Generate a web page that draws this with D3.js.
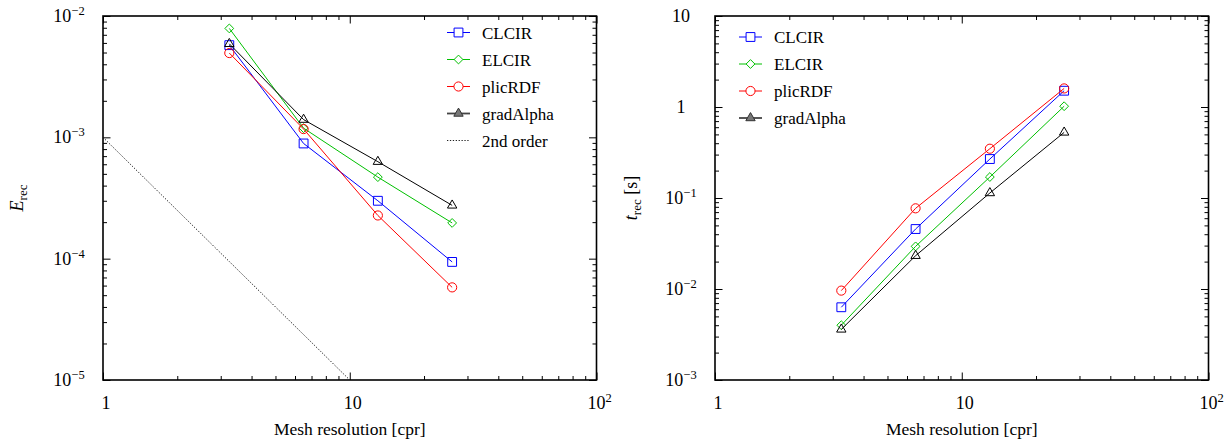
<!DOCTYPE html>
<html>
<head>
<meta charset="utf-8">
<script src="https://cdn.jsdelivr.net/npm/d3@7"></script>
<style>
  body { margin: 0; background: #fff; }
  svg { display: block; font-family: "Liberation Serif", "DejaVu Serif", serif; }
</style>
</head>
<body>
<svg id="chart" width="1231" height="439"></svg>
<script>
// mesh resolution (cells per radius)
var meshRes = [3.25, 6.5, 13, 26];

// reconstruction error
var errCLCIR = [5.75e-3, 8.9e-4, 3.0e-4, 9.4e-5];
var errELCIR = [7.9e-3, 1.19e-3, 4.7e-4, 1.97e-4];
var errPlicRDF = [4.95e-3, 1.17e-3, 2.27e-4, 5.8e-5];
var errGradAlpha = [5.9e-3, 1.40e-3, 6.3e-4, 2.75e-4];
var orderX = [1, 10];
var orderY = [1e-3, 1e-5];

// reconstruction time [s]
var timeCLCIR = [0.0063, 0.0456, 0.268, 1.51];
var timeELCIR = [0.0040, 0.0294, 0.170, 1.02];
var timePlicRDF = [0.0096, 0.077, 0.348, 1.6];
var timeGradAlpha = [0.0036, 0.0232, 0.1135, 0.526];

// tick labels: [base, exponent]
var xTickVals = [1, 10, 100];
var xTickText = [["1", ""], ["10", ""], ["10", "2"]];
var errTickVals = [1e-2, 1e-3, 1e-4, 1e-5];
var errTickText = [["10", "\u22122"], ["10", "\u22123"], ["10", "\u22124"], ["10", "\u22125"]];
var timeTickVals = [10, 1, 0.1, 0.01, 0.001];
var timeTickText = [["10", ""], ["1", ""], ["10", "\u22121"], ["10", "\u22122"], ["10", "\u22123"]];

var seriesNames = ["CLCIR", "ELCIR", "plicRDF", "gradAlpha"];
var seriesColors = ["#0000ff", "#00c000", "#ff0000", "#000000"];
var seriesMarkers = ["square", "diamond", "circle", "triangle"];

var svg = d3.select("#chart");
var top0 = 16, bottom0 = 380;

function markerPath(kind) {
  if (kind == "square") return d3.symbol(d3.symbolSquare, 78)();
  if (kind == "triangle") return d3.symbol(d3.symbolTriangle, 38)();
  if (kind == "diamond") return "M0,-4.4L4.4,0L0,4.4L-4.4,0Z";
  return d3.symbol(d3.symbolCircle, 66)();
}

function labelText(sel, base, exp) {
  sel.append("tspan").text(base);
  if (exp) sel.append("tspan").attr("dy", -7).attr("font-size", 12.5).text(exp);
}

var panelId = 0;
function drawPanel(opt) {
  panelId++;
  var W = opt.right - opt.left, H = bottom0 - top0;
  var g = svg.append("g").attr("transform", `translate(${opt.left},${top0})`);

  var x = d3.scaleLog().domain([1, 100]).range([0, W]);
  var y = d3.scaleLog().domain(opt.yDomain).range([H, 0]);

  g.append("clipPath").attr("id", "clip" + panelId)
    .append("rect").attr("width", W).attr("height", H);

  // ticks, inward on all 4 sides
  var xAll = x.ticks(), yAll = y.ticks();
  var isMajor = v => Math.abs(Math.log10(v) - Math.round(Math.log10(v))) < 1e-9;
  var xMaj = xAll.filter(isMajor), xMin = xAll.filter(v => !isMajor(v));
  var yMaj = yAll.filter(isMajor), yMin = yAll.filter(v => !isMajor(v));

  var axes = [
    [() => d3.axisBottom(x), `translate(0,${H})`, xMaj, xMin],
    [() => d3.axisTop(x), null, xMaj, xMin],
    [() => d3.axisLeft(y), null, yMaj, yMin],
    [() => d3.axisRight(y), `translate(${W},0)`, yMaj, yMin]
  ];
  axes.forEach(a => {
    [[a[2], -7.5], [a[3], -4]].forEach(t => {
      var ax = g.append("g").attr("transform", a[1])
        .call(a[0]().tickValues(t[0]).tickSize(t[1]).tickFormat(""));
      ax.select(".domain").remove();
      ax.selectAll("line").attr("stroke", "#000").attr("stroke-width", 1);
    });
  });

  // frame
  g.append("rect").attr("width", W).attr("height", H)
    .attr("fill", "none").attr("stroke", "#000").attr("stroke-width", 1.6);

  // tick labels
  xTickVals.forEach((v, i) => {
    var t = g.append("text").attr("x", x(v) + 3).attr("y", H + 29)
      .attr("text-anchor", "middle").attr("font-size", 18);
    labelText(t, xTickText[i][0], xTickText[i][1]);
  });
  opt.yTickVals.forEach((v, i) => {
    var t = g.append("text").attr("x", -34).attr("y", y(v) + 6)
      .attr("text-anchor", "middle").attr("font-size", 18);
    labelText(t, opt.yTickText[i][0], opt.yTickText[i][1]);
  });

  // axis titles
  g.append("text").attr("x", W / 2).attr("y", H + 55)
    .attr("text-anchor", "middle").attr("font-size", 17.5).text("Mesh resolution [cpr]");
  var yt = g.append("text").attr("transform", `translate(${opt.yTitleX},${H / 2}) rotate(-90)`)
    .attr("text-anchor", "middle").attr("font-size", 18);
  yt.append("tspan").attr("font-style", "italic").text(opt.yTitle);
  yt.append("tspan").attr("font-size", 13).attr("dy", 4).text("rec");
  if (opt.yUnit) yt.append("tspan").attr("dy", -4).text("\u00a0" + opt.yUnit);

  var plot = g.append("g").attr("clip-path", `url(#clip${panelId})`);

  // reference slope
  if (opt.refX) {
    var refPts = opt.refX.map((v, i) => [v, opt.refY[i]]);
    plot.append("path").datum(refPts)
      .attr("fill", "none").attr("stroke", "#222").attr("stroke-width", 1)
      .attr("stroke-dasharray", "1.3,1.6")
      .attr("d", d3.line().x(d => x(d[0])).y(d => y(d[1])));
  }

  var line = d3.line().x(d => x(d[0])).y(d => y(d[1]));
  opt.series.forEach((vals, s) => {
    var pts = meshRes.map((m, i) => [m, vals[i]]);
    var col = seriesColors[s];
    g.append("path").datum(pts).attr("fill", "none")
      .attr("stroke", col).attr("stroke-width", 1).attr("d", line);
    g.selectAll(null).data(pts).enter().append("path")
      .attr("d", markerPath(seriesMarkers[s]))
      .attr("transform", d => `translate(${x(d[0])},${y(d[1])})`)
      .attr("fill", "none").attr("stroke", col).attr("stroke-width", 1);
  });

  // legend
  var lg = svg.append("g").attr("transform", `translate(${opt.legX},${opt.legY})`);
  var rows = seriesNames.slice();
  if (opt.refX) rows.push("2nd order");
  rows.forEach((name, i) => {
    var ry = i * 27;
    var col = i < 4 ? seriesColors[i] : "#222";
    var isGrad = name == "gradAlpha";
    var ln = lg.append("line").attr("x1", 0).attr("x2", 23).attr("y1", ry).attr("y2", ry)
      .attr("stroke", isGrad ? "#444" : col).attr("stroke-width", isGrad ? 1.8 : 1);
    if (i < 4) {
      lg.append("path").attr("d", markerPath(seriesMarkers[i]))
        .attr("transform", `translate(11.5,${ry})`)
        .attr("fill", isGrad ? "#777" : "#fff").attr("stroke", isGrad ? "#333" : col).attr("stroke-width", 1);
    } else {
      ln.attr("stroke-dasharray", "1.3,1.6");
    }
    lg.append("text").attr("x", 35).attr("y", ry + 6).attr("font-size", 17).text(name);
  });
}

drawPanel({
  left: 103, right: 596.5,
  yDomain: [1e-5, 1e-2],
  yTickVals: errTickVals, yTickText: errTickText,
  yTitle: "E", yUnit: "", yTitleX: -80,
  series: [errCLCIR, errELCIR, errPlicRDF, errGradAlpha],
  refX: orderX, refY: orderY,
  legX: 447, legY: 32.5
});

drawPanel({
  left: 715, right: 1208.5,
  yDomain: [1e-3, 10],
  yTickVals: timeTickVals, yTickText: timeTickText,
  yTitle: "t", yUnit: "[s]", yTitleX: -78,
  series: [timeCLCIR, timeELCIR, timePlicRDF, timeGradAlpha],
  legX: 739, legY: 37
});
</script>
</body>
</html>
